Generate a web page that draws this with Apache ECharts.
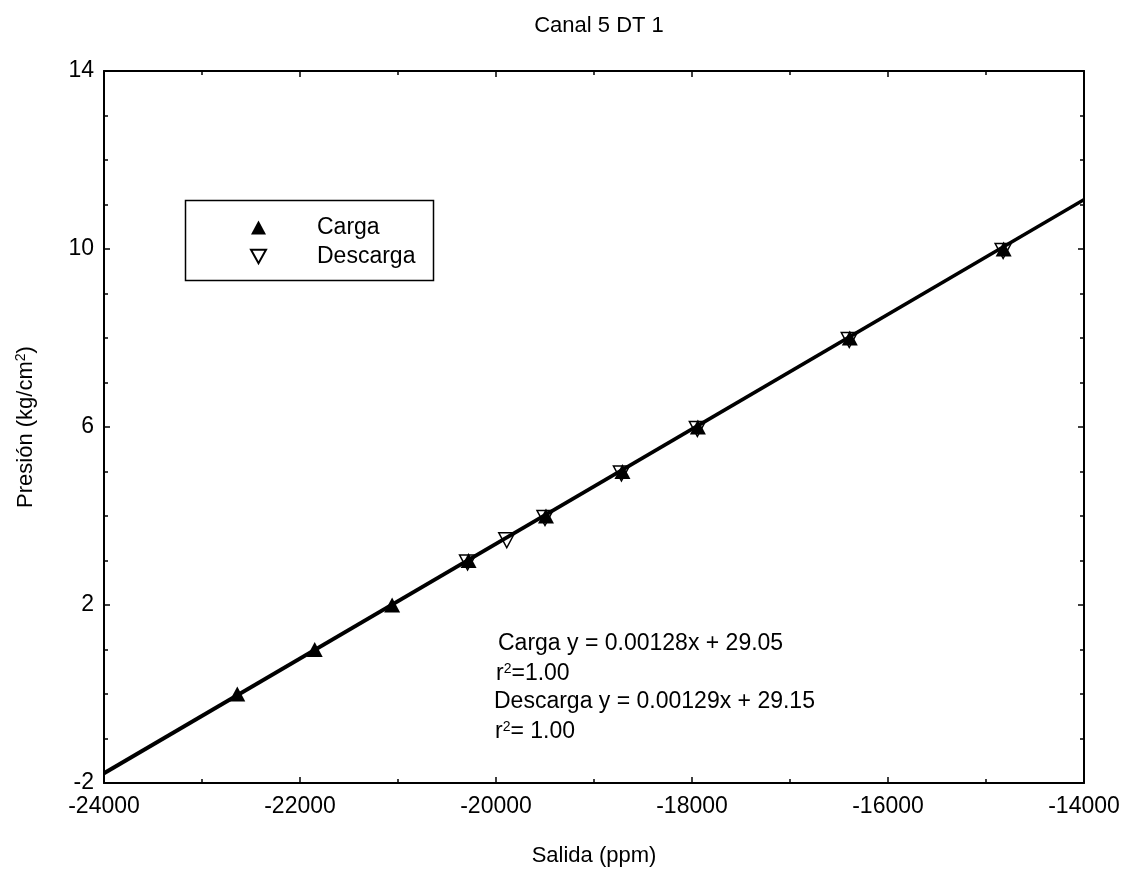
<!DOCTYPE html>
<html>
<head>
<meta charset="utf-8">
<script src="https://cdn.jsdelivr.net/npm/echarts@6/dist/echarts.min.js"></script>
<style>
  html, body { margin: 0; padding: 0; background: #fff; }
  #chart { width: 1136px; height: 875px; }
</style>
</head>
<body>
<div id="chart"></div>
<script>
// datos
const cargaX = [-22640, -21850, -21060, -20280, -19490, -18710, -17940, -16390, -14820];
const cargaY = [0, 1, 2, 3, 4, 5, 6, 8, 10];
const descargaX = [-20290, -19890, -19500, -18720, -17945, -16395, -14825];
const descargaY = [3, 3.5, 4, 5, 6, 8, 10];
// rectas de ajuste (extremos del eje x)
const ajusteX = [-24000, -14000];
const cargaAjusteY = [-1.76, 11.12];
const descargaAjusteY = [-1.80, 11.10];
const xTicks = [-24000, -22000, -20000, -18000, -16000, -14000];
const yTicks = [-2, 2, 6, 10, 14];

const FONT = "'Liberation Sans', Arial, sans-serif";
const black = "#000";
// triángulo invertido para la leyenda de Descarga
const invTriangle = "path://M0,0 L20,0 L10,18 Z";

function toPairs(xs, ys) {
  return xs.map((x, i) => [x, ys[i]]);
}

const chart = echarts.init(document.getElementById("chart"), null, { renderer: "canvas" });

const axisLineStyle = { show: true, onZero: false, lineStyle: { color: black, width: 2 } };
const axisTickStyle = { show: true, inside: true, length: 6, lineStyle: { color: black, width: 1.5 } };
const minorTickStyle = { show: true, length: 4, lineStyle: { color: black, width: 1.5 } };

const supStyle = { fontSize: 14, verticalAlign: "top", padding: [0, 0, 10, 0], fontFamily: FONT, color: black };

const option = {
  animation: false,
  backgroundColor: "#fff",
  textStyle: { fontFamily: FONT },
  title: {
    text: "Canal 5 DT 1",
    left: 594,
    top: 10,
    textAlign: "center",
    textStyle: { fontFamily: FONT, fontSize: 22, fontWeight: "normal", color: black },
  },
  grid: { left: 104, right: 52, top: 71, bottom: 92, containLabel: false },
  legend: {
    orient: "vertical",
    left: 245,
    top: 211,
    itemWidth: 15,
    itemHeight: 14,
    itemGap: 6,
    data: [
      { name: "Carga", icon: "triangle" },
      { name: "Descarga", icon: invTriangle },
    ],
    textStyle: { fontFamily: FONT, fontSize: 23, color: black, padding: [0, 0, 0, 46] },
  },
  xAxis: [
    {
      type: "value",
      min: xTicks[0],
      max: xTicks[xTicks.length - 1],
      interval: 2000,
      minorTick: { ...minorTickStyle, splitNumber: 2 },
      axisLine: axisLineStyle,
      axisTick: axisTickStyle,
      splitLine: { show: false },
      axisLabel: { color: black, fontSize: 23, fontFamily: FONT, margin: 12, formatter: (v) => String(v) },
      name: "Salida (ppm)",
      nameLocation: "middle",
      nameGap: 62,
      nameTextStyle: { color: black, fontSize: 22, fontFamily: FONT },
    },
    {
      type: "value",
      position: "top",
      min: xTicks[0],
      max: xTicks[xTicks.length - 1],
      interval: 2000,
      minorTick: { ...minorTickStyle, splitNumber: 2 },
      axisLine: axisLineStyle,
      axisTick: axisTickStyle,
      splitLine: { show: false },
      axisLabel: { show: false },
    },
  ],
  yAxis: [
    {
      type: "value",
      min: yTicks[0],
      max: yTicks[yTicks.length - 1],
      interval: 4,
      minorTick: { ...minorTickStyle, splitNumber: 4 },
      axisLine: axisLineStyle,
      axisTick: axisTickStyle,
      splitLine: { show: false },
      axisLabel: { color: black, fontSize: 23, fontFamily: FONT, margin: 10 },
      name: "Presión (kg/cm{sup|2})",
      nameLocation: "middle",
      nameGap: 66,
      nameTextStyle: { color: black, fontSize: 22, fontFamily: FONT, rich: { sup: supStyle } },
    },
    {
      type: "value",
      position: "right",
      min: yTicks[0],
      max: yTicks[yTicks.length - 1],
      interval: 4,
      minorTick: { ...minorTickStyle, splitNumber: 4 },
      axisLine: axisLineStyle,
      axisTick: axisTickStyle,
      splitLine: { show: false },
      axisLabel: { show: false },
    },
  ],
  graphic: [
    {
      type: "rect",
      left: 183,
      top: 198,
      shape: { width: 248, height: 80 },
      style: { fill: "none", stroke: black, lineWidth: 1.5 },
      silent: true,
    },
    {
      type: "group",
      left: 494,
      top: 632,
      children: [
        { type: "text", x: 4, y: 0, style: { text: "Carga y = 0.00128x + 29.05", font: "23px " + FONT, fill: black } },
        { type: "text", x: 2, y: 30, style: { text: "r{s|2}=1.00", font: "23px " + FONT, fill: black, rich: { s: supStyle } } },
        { type: "text", x: 0, y: 58, style: { text: "Descarga y = 0.00129x + 29.15", font: "23px " + FONT, fill: black } },
        { type: "text", x: 1, y: 88, style: { text: "r{s|2}= 1.00", font: "23px " + FONT, fill: black, rich: { s: supStyle } } },
      ],
    },
  ],
  series: [
    {
      name: "ajusteCarga",
      type: "line",
      data: toPairs(ajusteX, cargaAjusteY),
      showSymbol: false,
      lineStyle: { color: black, width: 2.5 },
      z: 2,
      silent: true,
    },
    {
      name: "ajusteDescarga",
      type: "line",
      data: toPairs(ajusteX, descargaAjusteY),
      showSymbol: false,
      lineStyle: { color: black, width: 2.5 },
      z: 2,
      silent: true,
    },
    {
      name: "Carga",
      type: "scatter",
      data: toPairs(cargaX, cargaY),
      symbol: "triangle",
      symbolSize: [16, 15],
      itemStyle: { color: black, opacity: 1 },
      z: 3,
    },
    {
      name: "Descarga",
      type: "scatter",
      data: toPairs(descargaX, descargaY),
      symbol: "triangle",
      symbolRotate: 180,
      symbolSize: [16, 15],
      symbolOffset: [0, 2],
      itemStyle: { color: "rgba(255,255,255,0)", opacity: 1, borderColor: black, borderWidth: 1.5 },
      z: 4,
    },
  ],
};

chart.setOption(option);
</script>
</body>
</html>
